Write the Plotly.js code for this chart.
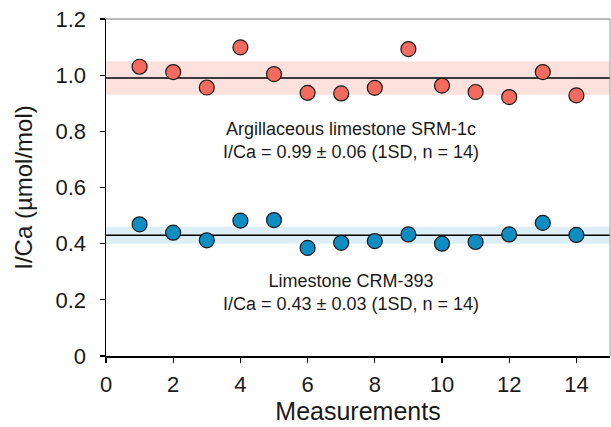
<!DOCTYPE html>
<html>
<head>
<meta charset="utf-8">
<script src="https://cdn.plot.ly/plotly-3.0.1.min.js"></script>
<style>html,body{margin:0;padding:0;background:#fff;}#chart{width:611px;height:427px;}</style>
</head>
<body>
<div id="chart"></div>
<script>
const measurements = [1,2,3,4,5,6,7,8,9,10,11,12,13,14];
const srm1c = [1.030,1.011,0.956,1.099,1.004,0.937,0.935,0.955,1.093,0.963,0.940,0.922,1.011,0.928];
const crm393 = [0.469,0.439,0.412,0.482,0.484,0.385,0.403,0.409,0.433,0.400,0.406,0.433,0.474,0.431];
const srmMean = 0.99, srmSD = 0.06;
const crmMean = 0.43, crmSD = 0.03;
const xTicks = [0,2,4,6,8,10,12,14];
const yTicks = [0,0.2,0.4,0.6,0.8,1.0,1.2];
const yTickText = ['0','0.2','0.4','0.6','0.8','1.0','1.2'];

const font = 'Arial, "Liberation Sans", sans-serif';
const traces = [
  {x: measurements, y: srm1c, mode: 'markers', type: 'scatter',
   marker: {size: 15, color: '#F26B5E', line: {color: '#1a1a1a', width: 1.2}}, cliponaxis: false},
  {x: measurements, y: crm393, mode: 'markers', type: 'scatter',
   marker: {size: 15, color: '#0E8DC2', line: {color: '#1a1a1a', width: 1.2}}, cliponaxis: false}
];
const layout = {
  width: 611, height: 427,
  margin: {l: 106, r: 1, t: 19, b: 71},
  paper_bgcolor: '#fff', plot_bgcolor: '#fff',
  showlegend: false,
  font: {family: font, color: '#1a1a1a'},
  xaxis: {range: [0, 15], tickvals: xTicks, ticks: 'outside', ticklen: 5, tickwidth: 1.2,
    tickcolor: '#000', showline: true, linecolor: '#000', linewidth: 1.5, showgrid: false, zeroline: false,
    ticklabelstandoff: 3,
    tickfont: {size: 22, family: font, color: '#1a1a1a'},
    title: {text: 'Measurements', font: {size: 25, family: font, color: '#1a1a1a'}, standoff: 6}},
  yaxis: {range: [0, 1.2], tickvals: yTicks, ticktext: yTickText, ticks: 'outside', ticklen: 5, tickwidth: 1.2,
    tickcolor: '#000', showline: true, linecolor: '#000', linewidth: 1.5, showgrid: false, zeroline: false,
    ticklabelstandoff: 9,
    tickfont: {size: 22, family: font, color: '#1a1a1a'},
    title: {text: 'I/Ca (µmol/mol)', font: {size: 24, family: font, color: '#1a1a1a'}, standoff: 16}},
  shapes: [
    {type: 'rect', xref: 'paper', yref: 'y', x0: 0, x1: 1, y0: srmMean - srmSD, y1: srmMean + srmSD,
     fillcolor: '#FDE1DD', line: {width: 0}, layer: 'below'},
    {type: 'rect', xref: 'paper', yref: 'y', x0: 0, x1: 1, y0: crmMean - crmSD, y1: crmMean + crmSD,
     fillcolor: '#DDEEF7', line: {width: 0}, layer: 'below'},
    {type: 'line', xref: 'paper', yref: 'y', x0: 0, x1: 1, y0: srmMean, y1: srmMean,
     line: {color: '#000', width: 1.5}, layer: 'below'},
    {type: 'line', xref: 'paper', yref: 'y', x0: 0, x1: 1, y0: crmMean, y1: crmMean,
     line: {color: '#000', width: 1.5}, layer: 'below'},
    {type: 'line', xref: 'paper', yref: 'paper', x0: 0, x1: 1, y0: 1, y1: 1,
     line: {color: '#777', width: 1.2}},
    {type: 'line', xref: 'paper', yref: 'paper', x0: 1, x1: 1, y0: 0, y1: 1,
     line: {color: '#999', width: 1}}
  ],
  annotations: [
    {x: 7.3, y: 0.768, xref: 'x', yref: 'y', showarrow: false,
     text: 'Argillaceous limestone SRM-1c<br>I/Ca = 0.99 ± 0.06 (1SD, n = 14)',
     font: {size: 18, family: font, color: '#1a1a1a'}, align: 'center'},
    {x: 7.3, y: 0.226, xref: 'x', yref: 'y', showarrow: false,
     text: 'Limestone CRM-393<br>I/Ca = 0.43 ± 0.03 (1SD, n = 14)',
     font: {size: 18, family: font, color: '#1a1a1a'}, align: 'center'}
  ]
};
Plotly.newPlot('chart', traces, layout, {displayModeBar: false, staticPlot: true});
</script>
</body>
</html>
